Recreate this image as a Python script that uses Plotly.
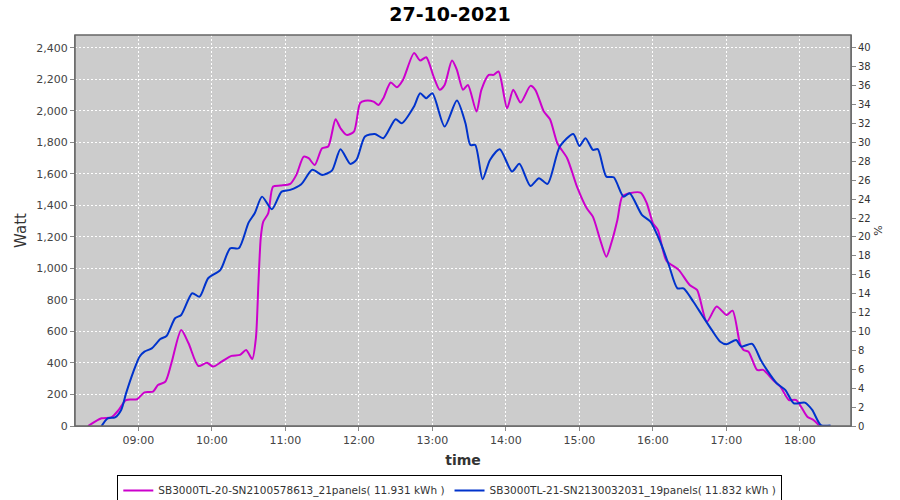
import plotly.graph_objects as go

DAY = "2021-10-27 "

# SB3000TL-20 (magenta)
inv20_time = [
    "08:19", "08:30", "08:38", "08:44", "08:50", "08:59", "09:05", "09:12", "09:16", "09:22",
    "09:27", "09:35", "09:41", "09:49", "09:56", "10:01", "10:08", "10:16", "10:23", "10:28",
    "10:33", "10:36", "10:38", "10:40", "10:42", "10:46", "10:50", "10:56", "11:04", "11:09",
    "11:15", "11:19", "11:24", "11:30", "11:35", "11:41", "11:45", "11:50", "11:56", "12:01",
    "12:05", "12:12", "12:16", "12:20", "12:26", "12:31", "12:36", "12:45", "12:50", "12:55",
    "13:01", "13:06", "13:10", "13:16", "13:20", "13:25", "13:29", "13:36", "13:40", "13:46",
    "13:50", "13:54", "14:01", "14:06", "14:12", "14:20", "14:24", "14:31", "14:36", "14:42",
    "14:50", "14:58", "15:06", "15:11", "15:17", "15:22", "15:26", "15:31", "15:35", "15:41",
    "15:50", "15:55", "16:00", "16:04", "16:11", "16:21", "16:30", "16:36", "16:44", "16:52",
    "17:00", "17:05", "17:11", "17:14", "17:18", "17:25", "17:30", "17:38", "17:44", "17:51",
    "17:57", "18:06", "18:11", "18:16",
]
inv20_watt = [
    0, 49, 55, 102, 165, 170, 214, 218, 260, 281,
    398, 610, 525, 381, 402, 377, 408, 445, 451, 483,
    425, 560, 900, 1200, 1297, 1350, 1520, 1526, 1537, 1594,
    1710, 1700, 1657, 1763, 1774, 1947, 1890, 1848, 1869, 2049,
    2064, 2059, 2038, 2081, 2180, 2151, 2197, 2367, 2320, 2341,
    2218, 2134, 2165, 2320, 2261, 2134, 2165, 1996, 2134, 2229,
    2229, 2250, 2017, 2134, 2053, 2159, 2134, 1996, 1947, 1795,
    1700, 1520, 1382, 1329, 1181, 1075, 1160, 1308, 1456, 1477,
    1481, 1414, 1287, 1245, 1050, 991, 895, 864, 662, 758,
    705, 732, 525, 483, 472, 356, 356, 292, 250, 165,
    165, 59, 38, 0,
]

# SB3000TL-21 (blue)
inv21_time = [
    "08:30", "08:35", "08:41", "08:46", "08:50", "08:56", "09:01", "09:05", "09:11", "09:18",
    "09:23", "09:30", "09:35", "09:44", "09:50", "09:57", "10:07", "10:15", "10:22", "10:30",
    "10:35", "10:41", "10:49", "10:57", "11:04", "11:13", "11:22", "11:30", "11:38", "11:45",
    "11:53", "11:58", "12:05", "12:13", "12:20", "12:30", "12:35", "12:45", "12:50", "12:55",
    "13:00", "13:10", "13:20", "13:27", "13:31", "13:35", "13:41", "13:47", "13:55", "14:05",
    "14:11", "14:20", "14:27", "14:34", "14:44", "14:55", "15:00", "15:05", "15:11", "15:15",
    "15:22", "15:28", "15:36", "15:41", "15:51", "15:58", "16:07", "16:13", "16:20", "16:25",
    "16:33", "16:40", "16:48", "16:55", "17:00", "17:08", "17:12", "17:21", "17:28", "17:33",
    "17:41", "17:48", "17:55", "18:04", "18:10", "18:17", "18:25",
]
inv21_watt = [
    0, 49, 55, 102, 207, 345, 440, 472, 493, 552,
    571, 684, 705, 843, 821, 938, 991, 1128, 1128, 1291,
    1350, 1456, 1376, 1488, 1499, 1535, 1626, 1594, 1621, 1757,
    1664, 1689, 1837, 1854, 1827, 1947, 1922, 2028, 2112, 2081,
    2112, 1901, 2066, 1922, 1784, 1784, 1567, 1689, 1757, 1615,
    1664, 1524, 1573, 1537, 1774, 1854, 1778, 1827, 1753, 1757,
    1583, 1579, 1456, 1477, 1340, 1297, 1149, 1022, 874, 874,
    789, 705, 610, 535, 519, 546, 504, 521, 419, 356,
    271, 229, 144, 148, 102, 6, 4,
]

series_names = [
    "SB3000TL-20-SN2100578613_21panels( 11.931 kWh )",
    "SB3000TL-21-SN2130032031_19panels( 11.832 kWh )",
]
series_colors = ["#CC00CC", "#0033CC"]

FONT = "DejaVu Sans"
TICK_GREY = "#444444"

fig = go.Figure()
for name, color, t, w in [
    (series_names[0], series_colors[0], inv20_time, inv20_watt),
    (series_names[1], series_colors[1], inv21_time, inv21_watt),
]:
    fig.add_trace(go.Scatter(
        x=[DAY + s for s in t], y=w, name=name, mode="lines",
        line=dict(color=color, width=2, shape="spline", smoothing=0.7),
    ))

# invisible helper so the right-hand % axis is drawn
fig.add_trace(go.Scatter(x=[DAY + "12:00"], y=[0], yaxis="y2", mode="markers",
                         marker=dict(opacity=0), showlegend=False, hoverinfo="skip"))

fig.update_layout(
    width=900, height=500,
    paper_bgcolor="white", plot_bgcolor="#CCCCCC",
    margin=dict(l=75, r=49, t=35, b=74, autoexpand=False),
    font=dict(family=FONT, size=11, color=TICK_GREY),
    title=dict(text="<b>27-10-2021</b>", x=0.5, xref="container", yref="container",
               y=0.972, yanchor="middle",
               font=dict(family=FONT, size=19, color="black")),
    showlegend=True,
    legend=dict(orientation="h", x=0.483, xanchor="center",
                y=-0.125, yanchor="top", bordercolor="black", borderwidth=1,
                font=dict(family=FONT, size=10.5, color="#333333"), itemwidth=30,
                tracegroupgap=0),
    xaxis=dict(
        type="date", range=[DAY + "08:08:20", DAY + "18:41:40"],
        tick0=DAY + "09:00", dtick=3600000, tickformat="%H:%M",
        showgrid=True, gridcolor="white", griddash="2px,2px", gridwidth=1,
        ticks="outside", ticklen=4, tickcolor="#888888",
        showline=True, linecolor="#888888", zeroline=False, automargin=False,
        title=dict(text="<b>time</b>", font=dict(family=FONT, size=14, color="#333333"), standoff=8),
    ),
    yaxis=dict(
        range=[0, 2482], dtick=200, tickformat=",d",
        showgrid=True, gridcolor="white", griddash="2px,2px", gridwidth=1,
        ticks="outside", ticklen=4, tickcolor="#888888",
        showline=True, linecolor="#888888", zeroline=False, automargin=False,
        title=dict(text="Watt", font=dict(family=FONT, size=15, color="#333333"), standoff=6),
    ),
    yaxis2=dict(
        overlaying="y", side="right", range=[0, 41.37], dtick=2,
        showgrid=False, zeroline=False, automargin=False,
        ticks="outside", ticklen=4, tickcolor="#888888",
        showline=True, linecolor="#888888",
        tickfont=dict(family=FONT, size=10, color="#333333"),
        title=dict(text="%", font=dict(family=FONT, size=11, color="#333333"), standoff=4),
    ),
)

# dark plot-area border
fig.add_shape(type="rect", xref="paper", yref="paper", x0=0, y0=0, x1=1, y1=1,
              line=dict(color="#666666", width=1.5), layer="above")

# drop the page's default 8px body margin so the chart sits at the window's corner
fig.write_html("out.html", config={"displayModeBar": False},
               post_script="document.body.style.margin='0';")
